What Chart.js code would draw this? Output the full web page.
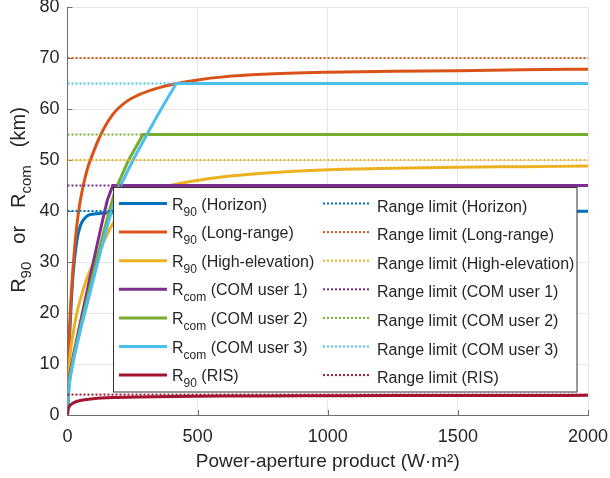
<!DOCTYPE html>
<html>
<head>
<meta charset="utf-8">
<script src="https://cdn.jsdelivr.net/npm/chart.js@4.4.0/dist/chart.umd.min.js"></script>
<style>
  body { margin: 0; background: #fff; }
  #wrap { width: 610px; height: 478px; }
</style>
</head>
<body>
<div id="wrap"><canvas id="chart" width="610" height="478"></canvas></div>
<script>
// Power-aperture sample points (W·m²) for the R90 curves
const paGrid = [0, 2, 5, 10, 20, 35, 50, 75, 100, 130, 175, 225, 275, 340, 420, 500, 600, 750, 1000, 1250, 1500, 1750, 2000];

// R90 curves (km)
const r90Horizon   = [0, 6.5, 11.5, 17.5, 26.5, 33.8, 37.2, 39, 39.4, 39.55, 39.65, 39.7, 39.75, 39.8, 39.8, 39.85, 39.85, 39.9, 39.9, 39.9, 39.95, 39.95, 39.95];
const r90LongRange = [0, 8, 13, 19.5, 28, 36.8, 42.3, 48, 51.6, 55.2, 59, 61.4, 62.8, 64, 65, 65.7, 66.3, 66.8, 67.2, 67.4, 67.5, 67.7, 67.8];
const r90HighElev  = [0, 4.5, 8.3, 11.8, 15.5, 19.8, 22.8, 26.8, 29.8, 33, 37.6, 40.8, 42.8, 44.3, 45.3, 46, 46.7, 47.4, 48.1, 48.4, 48.6, 48.7, 48.8];
const r90Ris       = [0, 1.1, 1.5, 1.9, 2.3, 2.65, 2.85, 3.05, 3.2, 3.32, 3.43, 3.5, 3.55, 3.6, 3.65, 3.68, 3.71, 3.74, 3.77, 3.8, 3.82, 3.84, 3.85];

// Rcom curves (km), each with its own sample points
const com1X = [0, 3, 10, 25, 45, 66, 90, 110, 130, 153, 174, 2000];
const rcomUser1 = [0, 4.5, 8.2, 12.3, 17.1, 22.1, 27.8, 32.5, 37.1, 42.1, 45, 45];
const com2X = [0, 3, 10, 25, 50, 76, 100, 120, 145, 166, 182, 200, 235, 290, 2000];
const rcomUser2 = [0, 4, 7.6, 11.8, 17.4, 22.9, 27.9, 32, 37, 41, 43.8, 46, 50, 55, 55];
const com3X = [0, 3, 10, 25, 50, 87, 110, 130, 155, 179, 202, 250, 305, 360, 418, 2000];
const rcomUser3 = [0, 3.8, 7.2, 11.2, 16.7, 24.1, 28.7, 32.6, 37.4, 41.7, 44.8, 49.8, 55, 60, 65, 65];

// Range limits (km) and legend text
const rangeLimits = [40, 70, 50, 45, 55, 65, 4];
const seriesNames = ['Horizon', 'Long-range', 'High-elevation', 'COM user 1', 'COM user 2', 'COM user 3', 'RIS'];
const seriesSubs  = ['90', '90', '90', 'com', 'com', 'com', '90'];
const colors = ['#0072BD', '#D95319', '#EDB120', '#7E2F8E', '#77AC30', '#4DBEEE', '#A2142F'];

const FONT = "'Liberation Sans', Arial, Helvetica, sans-serif";
const TEXT = '#262626';

const curveX = [paGrid, paGrid, paGrid, com1X, com2X, com3X, paGrid];
const curveY = [r90Horizon, r90LongRange, r90HighElev, rcomUser1, rcomUser2, rcomUser3, r90Ris];

const datasets = [];
curveY.forEach((vals, i) => {
  const isCom = seriesSubs[i] === 'com';
  datasets.push({
    data: vals.map((v, k) => ({ x: curveX[i][k], y: v })),
    borderColor: colors[i],
    borderWidth: 3,
    pointRadius: 0,
    fill: false,
    tension: 0,
    cubicInterpolationMode: isCom ? 'default' : 'monotone',
    order: 30 - i
  });
});
rangeLimits.forEach((lim, i) => {
  datasets.push({
    data: [{ x: 0, y: lim }, { x: 2000, y: lim }],
    borderColor: colors[i],
    borderWidth: 2,
    borderDash: [2, 2],
    pointRadius: 0,
    fill: false,
    order: 20 - i
  });
});

// draws a string made of normal / subscript pieces (gap = extra px after a piece)
function drawParts(ctx, parts, x, y, size, subSize, subDrop) {
  parts.forEach(p => {
    ctx.font = (p.sub ? subSize : size) + 'px ' + FONT;
    ctx.fillText(p.t, x, p.sub ? y + subDrop : y);
    x += ctx.measureText(p.t).width + (p.gap || 0);
  });
  return x;
}
function partsWidth(ctx, parts, size, subSize) {
  let w = 0;
  parts.forEach(p => {
    ctx.font = (p.sub ? subSize : size) + 'px ' + FONT;
    w += ctx.measureText(p.t).width + (p.gap || 0);
  });
  return w;
}

const decorPlugin = {
  id: 'decor',
  beforeDatasetsDraw(chart) {
    // inward tick marks like the original
    const ctx = chart.ctx, ca = chart.chartArea;
    const xs = chart.scales.x, ys = chart.scales.y;
    ctx.save();
    ctx.strokeStyle = '#6e6e6e';
    ctx.lineWidth = 1;
    ctx.beginPath();
    ys.ticks.forEach(t => {
      const py = Math.round(ys.getPixelForValue(t.value)) + 0.5;
      ctx.moveTo(ca.left, py);
      ctx.lineTo(ca.left + 5, py);
    });
    xs.ticks.forEach(t => {
      const px = Math.round(xs.getPixelForValue(t.value)) + 0.5;
      ctx.moveTo(px, ca.bottom);
      ctx.lineTo(px, ca.bottom - 5);
    });
    ctx.stroke();
    ctx.restore();
  },
  afterDraw(chart) {
    const ctx = chart.ctx, ca = chart.chartArea;
    ctx.save();
    ctx.fillStyle = TEXT;

    // x axis title
    ctx.font = '19px ' + FONT;
    ctx.textAlign = 'center';
    ctx.textBaseline = 'middle';
    ctx.fillText('Power-aperture product (W·m²)', (ca.left + ca.right) / 2, 462);

    // y axis title with subscripts
    ctx.textAlign = 'left';
    ctx.textBaseline = 'alphabetic';
    const yParts = [{ t: 'R' }, { t: '90', sub: true, gap: 18 }, { t: 'or', gap: 18 }, { t: 'R' }, { t: 'com', sub: true, gap: 18 }, { t: '(km)' }];
    const yw = partsWidth(ctx, yParts, 20, 15);
    ctx.save();
    ctx.translate(25, 200);
    ctx.rotate(-Math.PI / 2);
    drawParts(ctx, yParts, -yw / 2, 0, 20, 15, 6);
    ctx.restore();

    // legend box
    const lx = 113.5, ly = 187.5, lw = 463.5, lh = 204.5;
    ctx.fillStyle = '#fff';
    ctx.fillRect(lx, ly, lw, lh);
    ctx.strokeStyle = '#333';
    ctx.lineWidth = 1;
    ctx.strokeRect(lx, ly, lw, lh);

    const pitch = 28.6;
    seriesNames.forEach((name, i) => {
      const yl = ly + 16 + i * pitch;
      // solid sample
      ctx.strokeStyle = colors[i];
      ctx.lineWidth = 3;
      ctx.setLineDash([]);
      ctx.beginPath();
      ctx.moveTo(119, yl);
      ctx.lineTo(167, yl);
      ctx.stroke();
      // dotted sample
      ctx.lineWidth = 2;
      ctx.setLineDash([2, 2]);
      ctx.beginPath();
      ctx.moveTo(323, yl);
      ctx.lineTo(369, yl);
      ctx.stroke();
      ctx.setLineDash([]);

      ctx.fillStyle = TEXT;
      drawParts(ctx, [{ t: 'R' }, { t: seriesSubs[i], sub: true }, { t: ' (' + name + ')' }], 172, yl + 6, 16, 12, 6);
      ctx.font = '16px ' + FONT;
      ctx.fillText('Range limit (' + name + ')', 377, yl + 8);
    });
    ctx.restore();
  }
};

new Chart(document.getElementById('chart'), {
  type: 'line',
  data: { datasets: datasets },
  plugins: [decorPlugin],
  options: {
    responsive: false,
    animation: false,
    devicePixelRatio: 1,
    layout: { padding: { top: 7, right: 22, left: 0, bottom: 0 } },
    plugins: { legend: { display: false }, tooltip: { enabled: false } },
    scales: {
      x: {
        type: 'linear', min: 0, max: 2000,
        ticks: { stepSize: 500, color: TEXT, font: { family: FONT, size: 18 }, padding: 11, maxRotation: 0,
                 callback: v => String(v) },
        grid: { color: '#e6e6e6', drawTicks: false },
        border: { color: '#6e6e6e', width: 1 },
        afterFit(s) { s.height = 63; s.paddingLeft = 0; s.paddingRight = 0; }
      },
      y: {
        type: 'linear', min: 0, max: 80,
        ticks: { stepSize: 10, color: TEXT, font: { family: FONT, size: 18 }, padding: 8 },
        grid: { color: '#e6e6e6', drawTicks: false },
        border: { color: '#6e6e6e', width: 1 },
        afterFit(s) { s.width = 67.5; s.paddingTop = 0; s.paddingBottom = 0; }
      }
    }
  }
});
</script>
</body>
</html>
